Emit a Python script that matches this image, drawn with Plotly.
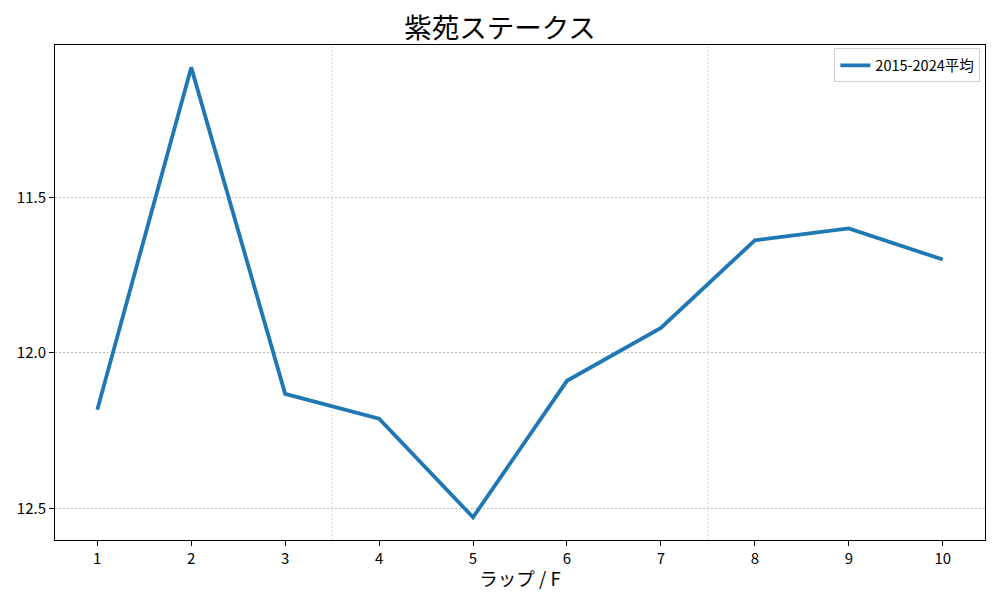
import plotly.graph_objects as go

laps = [1, 2, 3, 4, 5, 6, 7, 8, 9, 10]
avg_times = [12.183, 11.082, 12.132, 12.212, 12.529, 12.09, 11.92, 11.638, 11.60, 11.70]
series_name = "2015-2024平均"
section_bounds = [3.5, 7.5]
y_ticks = [11.5, 12.0, 12.5]

font = "Noto Sans CJK JP, DejaVu Sans, sans-serif"
grid_col = "rgba(170,170,170,0.8)"

fig = go.Figure()
fig.add_trace(go.Scatter(
    x=laps, y=avg_times, mode="lines", name=series_name,
    line=dict(color="#1f77b4", width=3.8),
))

for b in section_bounds:
    fig.add_shape(type="line", xref="x", yref="paper", x0=b, x1=b, y0=0, y1=1,
                  line=dict(color=grid_col, width=0.6, dash="2px,2px"), layer="below")

fig.update_layout(
    width=1000, height=600,
    margin=dict(l=55, r=15, t=45, b=60),
    paper_bgcolor="white", plot_bgcolor="white",
    font=dict(family=font, size=15, color="black"),
    title=dict(text="紫苑ステークス", x=0.5, xanchor="center", y=0.953, yanchor="middle",
               font=dict(size=27.5, family=font)),
    showlegend=True,
    legend=dict(x=0.995, y=0.993, xanchor="right", yanchor="top",
                bgcolor="rgba(255,255,255,0.8)", bordercolor="#d0d0d0", borderwidth=1,
                font=dict(size=14.5)),
    xaxis=dict(
        range=[0.55, 10.45], tickmode="array", tickvals=laps, ticktext=[str(v) for v in laps],
        showgrid=False, zeroline=False, showline=True, linecolor="black", linewidth=1,
        mirror=True, ticks="outside", ticklen=5, tickcolor="black",
        title=dict(text="ラップ / F", font=dict(size=18.5), standoff=6),
    ),
    yaxis=dict(
        range=[12.602, 11.01], tickmode="array", tickvals=y_ticks,
        ticktext=[f"{v:.1f}" for v in y_ticks],
        showgrid=True, gridcolor=grid_col, gridwidth=0.6, griddash="2px,2px",
        zeroline=False, showline=True, linecolor="black", linewidth=1,
        mirror=True, ticks="outside", ticklen=5, tickcolor="black",
    ),
)

fig.write_html("out.html", config={"displayModeBar": False},
               post_script="document.body.style.margin='0';")
